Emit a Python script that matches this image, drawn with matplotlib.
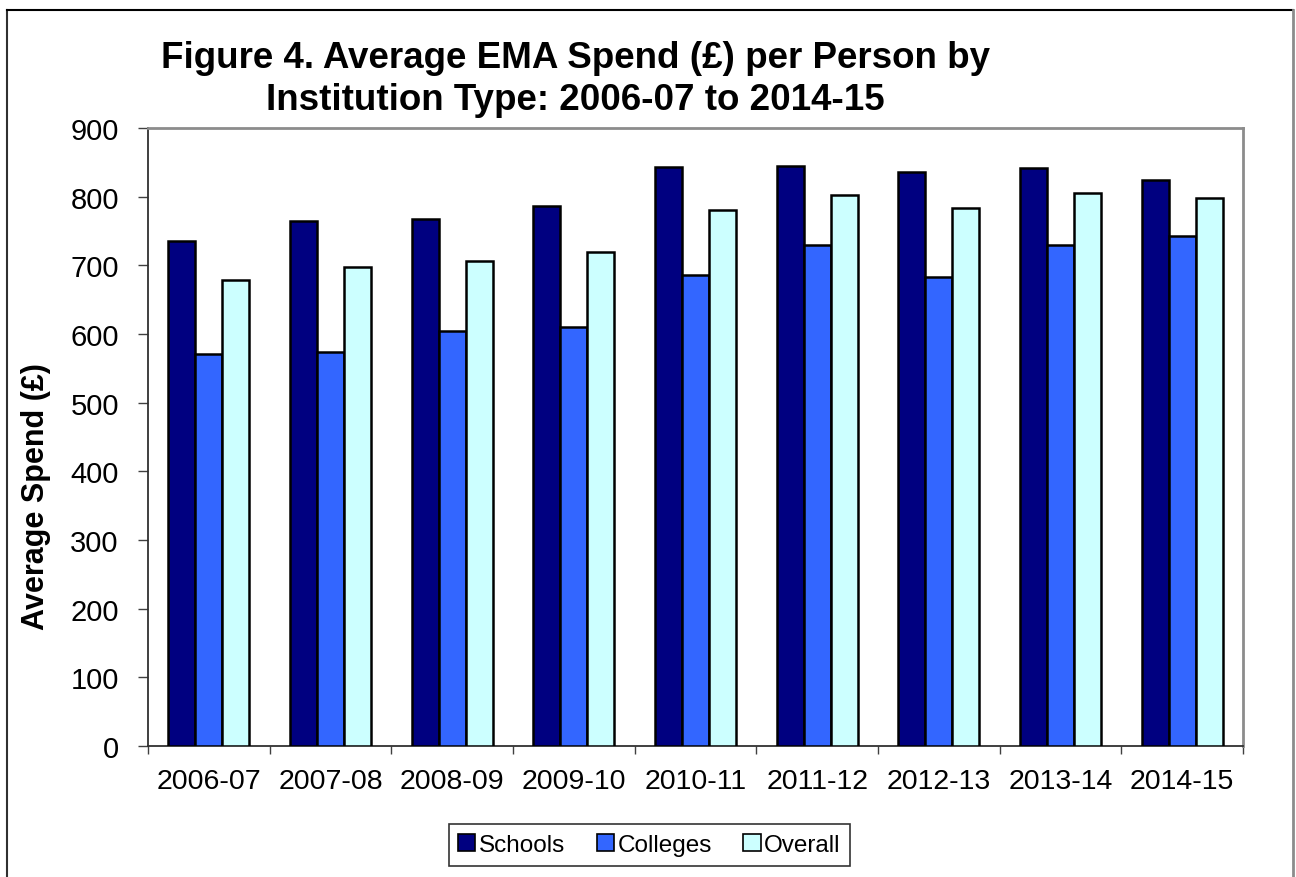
import matplotlib
import matplotlib.pyplot as plt
import numpy as np
from matplotlib.lines import Line2D

matplotlib.use('Agg')
plt.rcParams['font.family'] = ['Liberation Sans', 'DejaVu Sans']

# data
years = ['2006-07', '2007-08', '2008-09', '2009-10', '2010-11',
         '2011-12', '2012-13', '2013-14', '2014-15']
schools = [736, 765, 767, 786, 843, 844, 836, 842, 824]
colleges = [571, 574, 604, 610, 686, 729, 683, 729, 742]
overall = [679, 697, 706, 720, 781, 803, 783, 806, 798]
series = ['Schools', 'Colleges', 'Overall']
colors = ['#000080', '#3366FF', '#CCFFFF']

W, H = 1296, 878
fig = plt.figure(figsize=(W / 100, H / 100), dpi=100)
ax = fig.add_axes([148 / W, 1 - 747 / H, (1243 - 148) / W, (747 - 129) / H])

x = np.arange(len(years))
barWidth = 0.222
for i, (vals, name, col) in enumerate(zip([schools, colleges, overall], series, colors)):
  ax.bar(x + (i - 1) * barWidth, vals, width=barWidth, color=col,
         edgecolor='black', linewidth=1.8, label=name, zorder=3)

ax.set_xlim(-0.5, len(years) - 0.5)
ax.set_ylim(0, 900)
ax.set_yticks(range(0, 901, 100))
ax.tick_params(axis='y', labelsize=21, length=7, width=1, pad=14, color='#404040')
ax.set_xticks(x)
ax.set_xticklabels(years)
ax.tick_params(axis='x', which='major', length=0, labelsize=20.5, pad=16)
ax.set_xticks(np.arange(-0.5, len(years)), minor=True)
ax.tick_params(axis='x', which='minor', length=6, width=1, color='#404040')

for side in ['top', 'right']:
  ax.spines[side].set_color('#8c8c8c')
  ax.spines[side].set_linewidth(2)
for side in ['left', 'bottom']:
  ax.spines[side].set_color('#303030')
  ax.spines[side].set_linewidth(1.3)

fig.text(36 / W, 1 - 497 / H, 'Average Spend (£)', rotation=90, fontsize=22,
         fontweight='bold', ha='center', va='center')

fig.text(576 / W, 1 - 68 / H, 'Figure 4. Average EMA Spend (£) per Person by',
         fontsize=26.5, fontweight='bold', ha='center', va='baseline')
fig.text(575 / W, 1 - 110 / H, 'Institution Type: 2006-07 to 2014-15',
         fontsize=26.5, fontweight='bold', ha='center', va='baseline')

leg = fig.legend(loc='center', bbox_to_anchor=(649.5 / W, 1 - 846 / H), ncol=3,
                 fontsize=17.5, frameon=True, fancybox=False, edgecolor='black',
                 handlelength=0.7, handleheight=0.7, handletextpad=0.15,
                 columnspacing=1.3, borderpad=0.4, borderaxespad=0)
leg.get_frame().set_linewidth(1.2)
for h in leg.legend_handles:
  h.set_linewidth(1.2)

# outer chart frame
fig.add_artist(Line2D([7 / W, 7 / W], [0, 1 - 11 / H], color='#303030', lw=1.5))
fig.add_artist(Line2D([7 / W, 1293 / W], [1 - 11 / H, 1 - 11 / H], color='black', lw=1.5))
fig.add_artist(Line2D([1293 / W, 1293 / W], [0, 1 - 11 / H], color='#8c8c8c', lw=2))

plt.savefig('out.png', dpi=100)
